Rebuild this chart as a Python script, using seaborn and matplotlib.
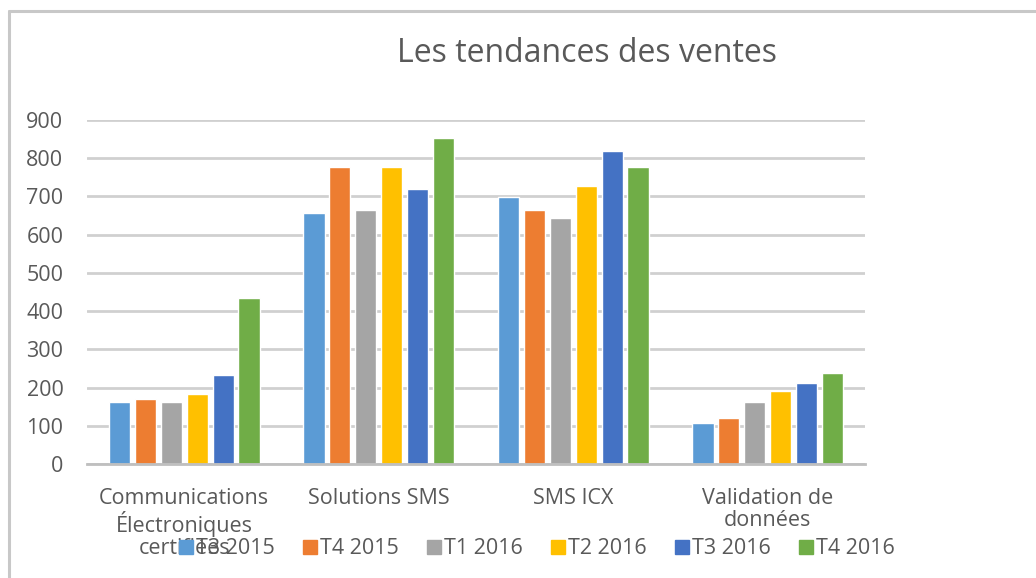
import matplotlib
matplotlib.use('Agg')
import matplotlib.pyplot as plt
from matplotlib.lines import Line2D
import seaborn as sns
import pandas as pd

# Chart data
categories = ['Communications\nÉlectroniques\ncertifiées', 'Solutions SMS', 'SMS ICX', 'Validation de\ndonnées']
quarters = ['T3 2015', 'T4 2015', 'T1 2016', 'T2 2016', 'T3 2016', 'T4 2016']
t3_2015 = [162, 657, 699, 106]
t4_2015 = [169, 777, 664, 120]
t1_2016 = [162, 664, 644, 162]
t2_2016 = [183, 777, 727, 190]
t3_2016 = [232, 720, 818, 211]
t4_2016 = [434, 853, 776, 239]
colors = ['#5b9bd5', '#ed7d31', '#a5a5a5', '#ffc000', '#4472c4', '#70ad47']

def main():
    series = [t3_2015, t4_2015, t1_2016, t2_2016, t3_2016, t4_2016]
    rows = []
    for q, vals in zip(quarters, series):
        for c, v in zip(categories, vals):
            rows.append({'cat': c, 'quarter': q, 'value': v})
    df = pd.DataFrame(rows)

    sns.set_style('white')
    plt.rcParams['font.family'] = ['Open Sans', 'DejaVu Sans']
    text_col = '#595959'

    fig = plt.figure(figsize=(10.36, 5.78), dpi=100)
    ax = fig.add_axes([87 / 1036, 1 - 464 / 578, 778 / 1036, 344 / 578])

    sns.barplot(data=df, x='cat', y='value', hue='quarter', order=categories,
                hue_order=quarters, palette=colors, width=0.8, gap=0.18,
                saturation=1, ax=ax, legend=False)

    ax.set_ylim(0, 900)
    ax.set_xlim(-0.5, 3.5)
    ax.set_yticks(range(0, 1000, 100))
    ax.yaxis.grid(True, color='#d0d0d0', linewidth=2)
    ax.set_axisbelow(True)
    for s in ['top', 'right', 'left']:
        ax.spines[s].set_visible(False)
    ax.spines['bottom'].set_color('#bfbfbf')
    ax.spines['bottom'].set_linewidth(2)
    ax.set_xlabel('')
    ax.set_ylabel('')
    ax.tick_params(axis='y', length=0, labelsize=15.5, labelcolor=text_col, pad=17)
    ax.tick_params(axis='x', which='major', length=0, labelsize=15.5, labelcolor=text_col, pad=17)
    ax.set_xticks([-0.5, 0.5, 1.5, 2.5, 3.5], minor=True)
    ax.tick_params(axis='x', which='minor', length=7, width=2, color='#bfbfbf', direction='out')
    for lbl in ax.get_xticklabels():
        lbl.set_linespacing(1.1)

    fig.text(587 / 1036, 1 - 53 / 578, 'Les tendances des ventes', ha='center', va='center',
             fontsize=23, color=text_col)

    handles = [plt.Rectangle((0, 0), 1, 1, color=c) for c in colors]
    fig.legend(handles, quarters, loc='center', bbox_to_anchor=(537 / 1036, 1 - 549 / 578),
               ncol=6, frameon=False, fontsize=15.5, labelcolor=text_col,
               handlelength=0.65, handleheight=0.65, handletextpad=0.15, columnspacing=1.3)

    # chart frame
    fig.add_artist(Line2D([9 / 1036, 1], [1 - 11 / 578, 1 - 11 / 578], color='#c8c8c8', linewidth=2.2,
                          transform=fig.transFigure))
    fig.add_artist(Line2D([9 / 1036, 9 / 1036], [0, 1 - 11 / 578], color='#c8c8c8', linewidth=2.2,
                          transform=fig.transFigure))

    fig.savefig('out.png', dpi=100)

if __name__ == '__main__':
    main()
